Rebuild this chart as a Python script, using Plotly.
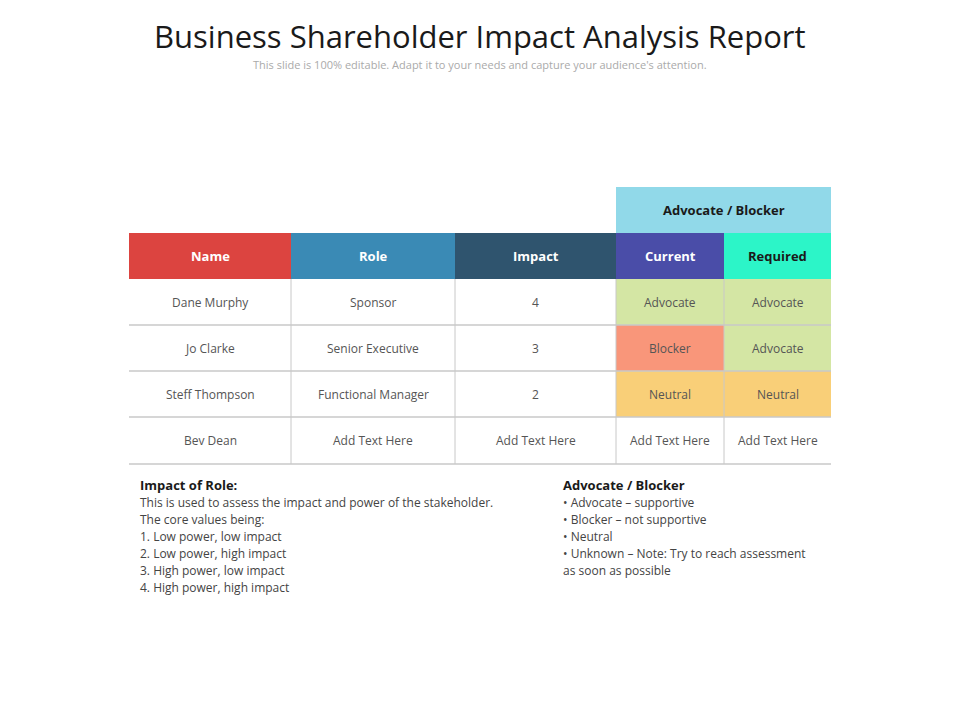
import plotly.graph_objects as go

title = "Business Shareholder Impact Analysis Report"
subtitle = "This slide is 100% editable. Adapt it to your needs and capture your audience's attention."
group_header = "Advocate / Blocker"
headers = ["Name", "Role", "Impact", "Current", "Required"]
header_colors = ["#DC4440", "#3A8AB5", "#2F546E", "#4A4DA8", "#2CF5C8"]
header_text_colors = ["white", "white", "white", "white", "#1a1a1a"]
names = ["Dane Murphy", "Jo Clarke", "Steff Thompson", "Bev Dean"]
roles = ["Sponsor", "Senior Executive", "Functional Manager", "Add Text Here"]
impacts = ["4", "3", "2", "Add Text Here"]
current = ["Advocate", "Blocker", "Neutral", "Add Text Here"]
required = ["Advocate", "Advocate", "Neutral", "Add Text Here"]
status_colors = {"Advocate": "#D4E6A4", "Blocker": "#F9967A", "Neutral": "#F9CF78", "Add Text Here": "white"}
left_title = "Impact of Role:"
left_lines = ["This is used to assess the impact and power of the stakeholder.",
              "The core values being:", "1. Low power, low impact", "2. Low power, high impact",
              "3. High power, low impact", "4. High power, high impact"]
right_title = "Advocate / Blocker"
right_lines = ["• Advocate – supportive", "• Blocker – not supportive", "• Neutral",
               "• Unknown – Note: Try to reach assessment", "as soon as possible"]

xe = [129, 291, 455, 616, 724, 831]
ye = [233, 279, 325, 371, 417, 464]
FONT = "Open Sans"
fig = go.Figure()
shapes, ann = [], []

def txt(x, y, t, size=12, color="#444", bold=False, xanchor="center"):
    ann.append(dict(x=x, y=y, text=f"<b>{t}</b>" if bold else t, showarrow=False, xanchor=xanchor,
                    yanchor="middle", font=dict(family=FONT, size=size, color=color)))

shapes.append(dict(type="rect", x0=xe[3], x1=xe[5], y0=187, y1=ye[0], fillcolor="#91D9E9", line_width=0))
txt((xe[3] + xe[5]) / 2, 210, group_header, 13, "#1a1a1a", True)
for i, h in enumerate(headers):
    shapes.append(dict(type="rect", x0=xe[i], x1=xe[i+1], y0=ye[0], y1=ye[1], fillcolor=header_colors[i], line_width=0))
    txt((xe[i] + xe[i+1]) / 2, (ye[0] + ye[1]) / 2, h, 13, header_text_colors[i], True)
cols = [names, roles, impacts, current, required]
for r in range(4):
    for c in range(5):
        val = cols[c][r]
        fill = status_colors[val] if c >= 3 else "white"
        shapes.append(dict(type="rect", x0=xe[c], x1=xe[c+1], y0=ye[r+1], y1=ye[r+2], fillcolor=fill, line_width=0))
        txt((xe[c] + xe[c+1]) / 2, (ye[r+1] + ye[r+2]) / 2, val, 12, "#555")
for y in ye[2:]:
    shapes.append(dict(type="line", x0=xe[0], x1=xe[5], y0=y, y1=y, line=dict(color="#C8C8C8", width=1.5)))
for x in xe[1:5]:
    shapes.append(dict(type="line", x0=x, x1=x, y0=ye[1], y1=ye[5], line=dict(color="#C8C8C8", width=1)))

txt(480, 36, title, 31, "#1a1a1a")
txt(480, 64, subtitle, 11, "#AAAAAA")
txt(138, 485, left_title, 13, "#1a1a1a", True, "left")
for i, l in enumerate(left_lines):
    txt(138, 502 + i * 17, l, 12, "#444", False, "left")
txt(561, 485, right_title, 13, "#1a1a1a", True, "left")
for i, l in enumerate(right_lines):
    txt(561, 502 + i * 17, l, 12, "#444", False, "left")

fig.update_layout(width=960, height=720, margin=dict(l=0, r=0, t=0, b=0), plot_bgcolor="white",
                  paper_bgcolor="white", shapes=shapes, annotations=ann, showlegend=False,
                  xaxis=dict(range=[8, 968], visible=False, fixedrange=True),
                  yaxis=dict(range=[728, 8], visible=False, fixedrange=True))
fig.write_html("out.html")
